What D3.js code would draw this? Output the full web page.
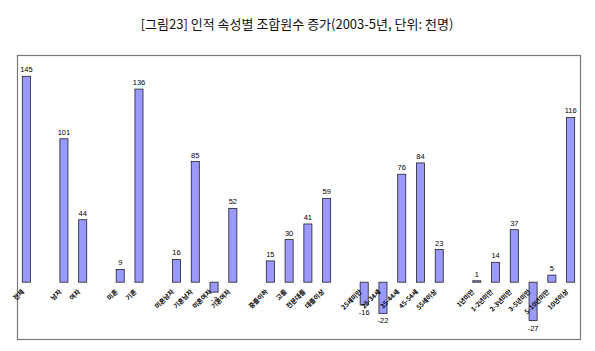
<!DOCTYPE html>
<html>
<head>
    <meta charset="UTF-8">
    <style>
        body { margin: 0; background: #fff; }
        .title { font-family: "Noto Sans CJK KR", sans-serif; font-size: 13px; fill: #111; }
        .val { font-family: "Liberation Sans", Arial, sans-serif; font-size: 7.5px; fill: #000; }
        .cat { font-family: "Noto Sans CJK KR", sans-serif; font-size: 6.5px; font-weight: bold; fill: #000; }
    </style>
    <script src="https://d3js.org/d3.v7.min.js"></script>
    <title>인적 속성별 조합원수 증가</title>
</head>
<body>
    <svg width="595" height="351"></svg>
    <script>
        // 빈 문자열 = 그룹 사이 빈 칸
        var categories = ["전체", "", "남자", "여자", "", "미혼", "기혼", "", "미혼남자", "기혼남자", "미혼여자", "기혼여자", "",
            "중졸이하", "고졸", "전문대졸", "대졸이상", "", "25세미만", "25-34세", "35-44세", "45-54세", "55세이상", "",
            "1년미만", "1-2년미만", "2-3년미만", "3-5년미만", "5-10년미만", "10년이상"];
        var values = [145, null, 101, 44, null, 9, 136, null, 16, 85, -7, 52, null,
            15, 30, 41, 59, null, -16, -22, 76, 84, 23, null,
            1, 14, 37, -27, 5, 116];
        var yDomain = [-40, 160];

        var svg = d3.select("svg");
        var pLeft = 17, pRight = 580, pTop = 55, pBottom = 339;

        svg.append("text")
            .attr("class", "title")
            .attr("x", 297).attr("y", 29)
            .attr("text-anchor", "middle")
            .text("[그림23] 인적 속성별 조합원수 증가(2003-5년, 단위: 천명)");

        var x = d3.scaleBand().domain(d3.range(categories.length)).range([pLeft, pRight]).paddingInner(0.57).paddingOuter(0.285);
        var y = d3.scaleLinear().domain(yDomain).range([pBottom, pTop]);

        // 외곽 테두리
        svg.append("rect")
            .attr("x", pLeft + 0.5).attr("y", pTop + 0.5)
            .attr("width", pRight - pLeft).attr("height", pBottom - pTop)
            .attr("fill", "none").attr("stroke", "#7a7a7a").attr("stroke-width", 1.2);

        var data = values.map(function(v, i) { return { i: i, name: categories[i], v: v }; })
            .filter(function(d) { return d.v !== null; });

        svg.selectAll(".bar")
            .data(data)
            .enter().append("rect")
            .attr("class", "bar")
            .attr("x", function(d) { return x(d.i); })
            .attr("y", function(d) { return y(Math.max(0, d.v)); })
            .attr("width", x.bandwidth())
            .attr("height", function(d) { return Math.abs(y(d.v) - y(0)); })
            .attr("fill", "#9999ff")
            .attr("stroke", "#222")
            .attr("stroke-width", 0.8);

        svg.selectAll(".val")
            .data(data)
            .enter().append("text")
            .attr("class", "val")
            .attr("x", function(d) { return x(d.i) + x.bandwidth() / 2; })
            .attr("y", function(d) { return d.v >= 0 ? y(d.v) - 4 : y(d.v) + 10; })
            .attr("text-anchor", "middle")
            .text(function(d) { return d.v; });

        svg.selectAll(".cat")
            .data(data)
            .enter().append("text")
            .attr("class", "cat")
            .attr("text-anchor", "end")
            .attr("transform", function(d) {
                var cx = x(d.i) + x.bandwidth() / 2 - 2;
                return "translate(" + cx + "," + (y(0) + 10) + ") rotate(-45)";
            })
            .text(function(d) { return d.name; });
    </script>
</body>
</html>
